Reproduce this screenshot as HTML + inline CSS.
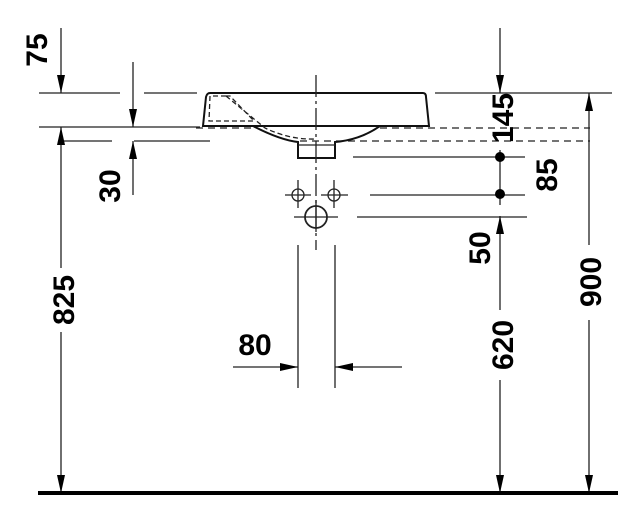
<!DOCTYPE html>
<html><head><style>body{margin:0;background:#fff}svg{display:block}text{font-family:"Liberation Sans",sans-serif;font-weight:bold;font-size:30px;fill:#000}</style></head>
<body>
<svg width="638" height="515" viewBox="0 0 638 515">
<defs><marker id="a" markerWidth="18" markerHeight="8" refX="18" refY="4" orient="auto" markerUnits="userSpaceOnUse" viewBox="0 0 18 8"><path d="M0,0 L18,4 L0,8z" fill="#000"/></marker></defs>
<g stroke="#222" stroke-width="1.3" fill="none">
<path d="M39 93H120M144 93H197M435 93H612"/>
<path d="M39 127H200M60 141H112M134 141H210"/>
<path d="M196 128H253M380 128H590M300 141H590" stroke-dasharray="7 5"/>
<path d="M353 157H525M370 195H525M357 217H527"/>
<path d="M61 28V93" marker-end="url(#a)"/>
<path d="M61 268V127" marker-end="url(#a)"/>
<path d="M61 332V493" marker-end="url(#a)"/>
<path d="M133 62V127" marker-end="url(#a)"/>
<path d="M133 195V141" marker-end="url(#a)"/>
<path d="M500 28V93" marker-end="url(#a)"/>
<path d="M500 150V205"/>
<path d="M500 310V216" marker-end="url(#a)"/>
<path d="M500 380V493" marker-end="url(#a)"/>
<path d="M589 245V93" marker-end="url(#a)"/>
<path d="M589 320V493" marker-end="url(#a)"/>
<path d="M298 245V388M335 245V388"/>
<path d="M233 367H298" marker-end="url(#a)"/>
<path d="M402 367H335" marker-end="url(#a)"/>
<path d="M210 93H423Q426 93 426 97L429 126H203L206 97Q207 93 210 93Z" stroke="#111" stroke-width="2"/>
<path d="M253 126Q280 140 298 142V158H335V142Q360 140 380 126" stroke="#111" stroke-width="2"/>
<path d="M226 96H210L209 121H254L230 96ZM226 96L265 128Q290 140 316 139" stroke-dasharray="5 3"/>
<path d="M316 75V250" stroke-dasharray="22 4 3 4"/>
<path d="M298 145H335"/>
<circle cx="298" cy="195" r="6"/><circle cx="334" cy="195" r="6"/><circle cx="316" cy="217" r="11" stroke-width="1.8"/>
<path d="M285 195H311M298 180V208M321 195H348M334 180V208M294 217H338M316 200V232"/>
</g>
<path d="M38 493H618" stroke="#000" stroke-width="4"/>
<circle cx="500" cy="157" r="5"/><circle cx="500" cy="194" r="5"/>
<text transform="translate(47,50) rotate(-90)" text-anchor="middle">75</text>
<text transform="translate(120,186) rotate(-90)" text-anchor="middle">30</text>
<text transform="translate(74,300) rotate(-90)" text-anchor="middle">825</text>
<text transform="translate(513,118) rotate(-90)" text-anchor="middle">145</text>
<text transform="translate(557,175) rotate(-90)" text-anchor="middle">85</text>
<text transform="translate(490,248) rotate(-90)" text-anchor="middle">50</text>
<text transform="translate(513,345) rotate(-90)" text-anchor="middle">620</text>
<text transform="translate(601,282) rotate(-90)" text-anchor="middle">900</text>
<text x="255" y="355" text-anchor="middle">80</text>
</svg>
</body></html>
